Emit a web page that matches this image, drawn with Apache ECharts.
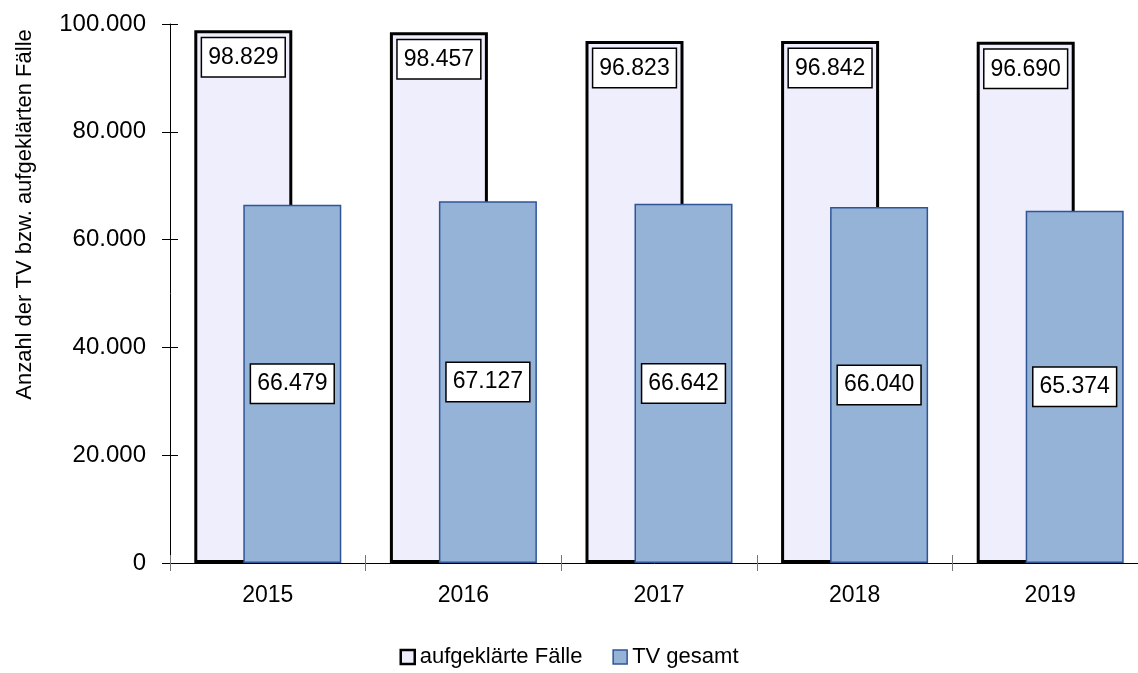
<!DOCTYPE html>
<html>
<head>
<meta charset="utf-8">
<script src="https://cdn.jsdelivr.net/npm/echarts@6/dist/echarts.min.js"></script>
<style>
  html, body { margin: 0; padding: 0; background: #fff; }
  #chart { width: 1138px; height: 673px; }
</style>
</head>
<body>
<div id="chart"></div>
<script>
const years = ['2015', '2016', '2017', '2018', '2019'];
const aufgeklaert = [98829, 98457, 96823, 96842, 96690];
const tvGesamt = [66479, 67127, 66642, 66040, 65374];

const FONT = "'Liberation Sans Narrow', 'Arial Narrow', 'Liberation Sans', sans-serif";

const fmt = (v) => String(v).replace(/\B(?=(\d{3})+(?!\d))/g, '.');

const labelBox = {
  show: true,
  color: '#000',
  fontFamily: FONT,
  fontSize: 23,
  backgroundColor: '#fff',
  borderColor: '#000',
  borderWidth: 1.5,
  padding: [8, 6, 7, 6],
  formatter: (p) => fmt(p.value)
};

const chart = echarts.init(document.getElementById('chart'));

chart.setOption({
  animation: false,
  textStyle: { fontFamily: FONT },
  grid: { left: 170, top: 24, bottom: 110, right: -10, outerBoundsMode: 'none', containLabel: false },
  legend: {
    bottom: 0,
    left: 'center',
    itemWidth: 14,
    itemHeight: 14,
    itemGap: 30,
    textStyle: { fontFamily: FONT, fontSize: 22, color: '#000' },
    data: [
      { name: 'aufgeklärte Fälle', icon: 'rect', itemStyle: { color: '#eeeefc', borderColor: '#000', borderWidth: 2.5 } },
      { name: 'TV gesamt', icon: 'rect', itemStyle: { color: '#95b3d7', borderColor: '#2f5597', borderWidth: 1.5 } }
    ]
  },
  xAxis: [
    {
      type: 'category',
      data: years,
      position: 'bottom',
      axisLine: { lineStyle: { color: '#000', width: 1 } },
      axisTick: { show: true, length: 8, lineStyle: { color: '#777' } },
      axisLabel: { color: '#000', fontFamily: FONT, fontSize: 23, margin: 21 }
    },
    {
      type: 'category',
      data: years,
      position: 'bottom',
      axisLine: { show: false },
      axisTick: { show: true, inside: true, length: 8, lineStyle: { color: '#777' } },
      axisLabel: { show: false }
    }
  ],
  yAxis: [
    {
      type: 'value',
      min: 0,
      max: 100000,
      interval: 20000,
      position: 'left',
      name: 'Anzahl der TV bzw. aufgeklärten Fälle',
      nameLocation: 'middle',
      nameGap: 134,
      nameTextStyle: { color: '#000', fontFamily: FONT, fontSize: 22, padding: [0, 0, 0, 158] },
      axisLine: { show: true, lineStyle: { color: '#000', width: 1 } },
      axisTick: { show: true, length: 8, lineStyle: { color: '#000' } },
      axisLabel: { color: '#000', fontFamily: FONT, fontSize: 24, margin: 24, formatter: fmt },
      splitLine: { show: false }
    },
    {
      type: 'value',
      min: 0,
      max: 100000,
      interval: 20000,
      position: 'left',
      axisLine: { show: false },
      axisTick: { show: true, inside: true, length: 8, lineStyle: { color: '#000' } },
      axisLabel: { show: false },
      splitLine: { show: false }
    }
  ],
  series: [
    {
      name: 'aufgeklärte Fälle',
      type: 'bar',
      data: aufgeklaert,
      barWidth: 98,
      barGap: '-50%',
      itemStyle: { color: '#eeeefc', borderColor: '#000', borderWidth: 3 },
      label: Object.assign({}, labelBox, { position: 'insideTop', distance: 8 })
    },
    {
      name: 'TV gesamt',
      type: 'bar',
      data: tvGesamt,
      barWidth: 98,
      barGap: '-50%',
      itemStyle: { color: '#95b3d7', borderColor: '#2f5597', borderWidth: 1.5 },
      label: Object.assign({}, labelBox, { position: 'inside' })
    }
  ]
});
</script>
</body>
</html>
